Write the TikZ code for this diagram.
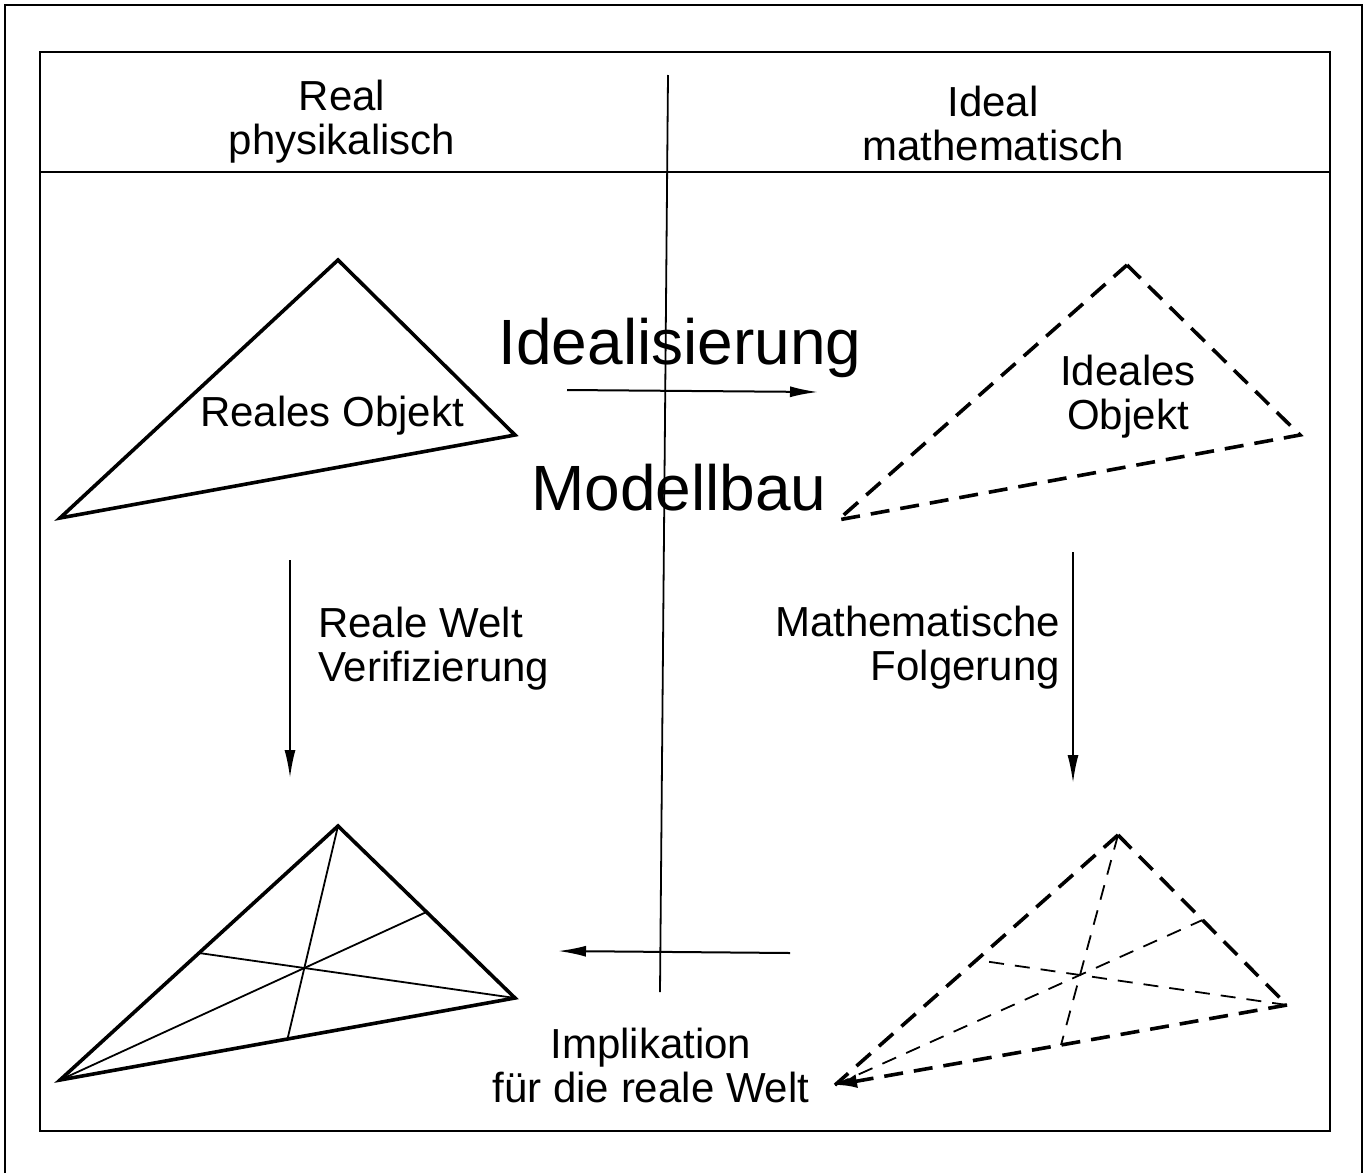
\documentclass[tikz,border=0pt]{standalone}
\usepackage{fontspec}
\setmainfont{Liberation Sans}
\usetikzlibrary{arrows.meta,calc}

\begin{document}
\begin{tikzpicture}[x=1pt, y=-1pt, >={Latex[length=28pt,width=11pt]},
  lbl/.style={inner sep=0pt, align=center, font=\fontsize{42}{44}\selectfont},
  big/.style={inner sep=0pt, font=\fontsize{64}{70}\selectfont},
  frame/.style={line width=2.5pt},
  real/.style={line width=3.6pt, line join=miter},
  ideal/.style={line width=3.6pt, dash pattern=on 19pt off 11pt},
  median/.style={line width=1.8pt},
  imedian/.style={line width=1.8pt, dash pattern=on 15pt off 11pt},
  flow/.style={line width=2pt, ->}]
  \fill[white] (0,0) rectangle (1368,1173);
  \useasboundingbox (0,0) rectangle (1368,1173);
  % frames
  \draw[frame, line width=2.8pt] (5,1173) -- (5,5) -- (1362,5) -- (1362,1173);
  \draw[frame] (40,52) rectangle (1330,1131);
  \draw[frame] (40,172) -- (1330,172);
  \draw[median] (668,75) -- (660,992);
  % headers
  \node[lbl] (hreal) at (342,122) {Real\\physikalisch};
  \node[lbl] (hideal) at (993,123) {Ideal\\mathematisch};
  % triangles
  \coordinate (ra) at (338,260); \coordinate (rb) at (515,435); \coordinate (rc) at (60,518);
  \coordinate (ia) at (1127,265); \coordinate (ib) at (1300,435); \coordinate (ic) at (838,520);
  \coordinate (sa) at (338,826); \coordinate (sb) at (515,998); \coordinate (sc) at (60,1080);
  \coordinate (ta) at (1118,835); \coordinate (tb) at (1287,1005); \coordinate (tc) at (835,1085);
  \draw[real] (ra) -- (rb) -- (rc) -- cycle;
  \draw[ideal] (ia) -- (ib) -- (ic) -- cycle;
  \draw[real] (sa) -- (sb) -- (sc) -- cycle;
  \draw[median] (sa) -- ($(sb)!0.5!(sc)$);
  \draw[median] (sb) -- ($(sa)!0.5!(sc)$);
  \draw[median] (sc) -- ($(sa)!0.5!(sb)$);
  \draw[ideal] (ta) -- (tb);
  \draw[ideal] (ta) -- (tc);
  \draw[ideal, -{Latex[length=22pt,width=14pt]}] (tb) -- (tc);
  \draw[imedian] (ta) -- ($(tb)!0.5!(tc)$);
  \draw[imedian] (tb) -- ($(ta)!0.5!(tc)$);
  \draw[imedian] (tc) -- ($(ta)!0.5!(tb)$);
  \node[lbl] (robj) at (332,416) {Reales Objekt};
  \node[lbl] (iobj) at (1128,397) {Ideales\\Objekt};
  % transitions
  \node[big] (ideali) at (680,348) {Idealisierung};
  \node[big] (modell) at (679,488) {Modellbau};
  \coordinate (idl0) at (567,390); \coordinate (idl1) at (818,392);
  \coordinate (ver0) at (290,560); \coordinate (ver1) at (290,778);
  \coordinate (fol0) at (1073,552); \coordinate (fol1) at (1073,783);
  \coordinate (imp0) at (790,953); \coordinate (imp1) at (558,951);
  \draw[flow] (idl0) -- (idl1);
  \draw[flow] (ver0) -- (ver1);
  \draw[flow] (fol0) -- (fol1);
  \draw[flow] (imp0) -- (imp1);
  \node[lbl, anchor=west, align=left] (verif) at (318,649) {Reale Welt\\Verifizierung};
  \node[lbl, anchor=east, align=right] (folg) at (1060,648) {Mathematische\\Folgerung};
  \node[lbl] (impl) at (651,1065) {Implikation\\für die reale Welt};
\end{tikzpicture}
\end{document}
